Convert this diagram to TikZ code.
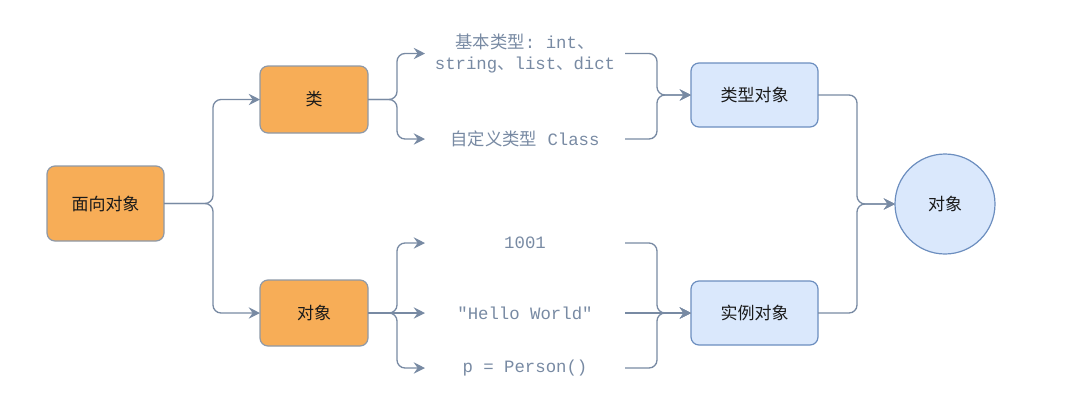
\documentclass[tikz,border=0pt]{standalone}
\usepackage{fontspec}
\setmonofont{Liberation Mono}
\newfontfamily\cjk{Noto Sans CJK SC}
\usetikzlibrary{arrows.meta,calc}
\definecolor{lc}{HTML}{788AA3}
\definecolor{ofill}{HTML}{F7AD57}
\definecolor{obd}{HTML}{8E99A8}
\definecolor{bfill}{HTML}{DAE8FC}
\definecolor{bbd}{HTML}{6C8EBF}
\definecolor{tx}{HTML}{1A1A1A}
\tikzset{
  obox/.style={draw=obd, fill=ofill, rounded corners=6pt, line width=0.9pt, text=tx,
    font=\cjk\fontsize{12.75}{15}\selectfont, inner sep=0pt, outer sep=0pt},
  bbox/.style={draw=bbd, fill=bfill, rounded corners=6pt, line width=0.9pt, text=tx,
    font=\cjk\fontsize{12.75}{15}\selectfont, inner sep=0pt, outer sep=0pt},
  code/.style={text=lc, font=\ttfamily\fontsize{13}{15.75}\selectfont, align=center,
    minimum width=150pt, inner sep=0pt, outer sep=0pt},
  conn/.style={draw=lc, line width=1pt, rounded corners=6pt,
    -{Stealth[length=8.5pt,width=8.5pt,inset=3pt]}}
}
\begin{document}
\begin{tikzpicture}[x=0.75pt,y=-0.75pt]
\useasboundingbox (0,0) rectangle (1065,412);
% boxes
\node[obox, minimum width=87.75pt, minimum height=56.25pt] (oop) at (105.5,203.5) {面向对象};
\node[obox, minimum width=81pt, minimum height=50.25pt] (cls) at (314,99.5) {类};
\node[obox, minimum width=81pt, minimum height=49.5pt] (obj) at (314,313) {对象};
\node[bbox, minimum width=95.25pt, minimum height=48pt] (tto) at (754.5,95) {类型对象};
\node[bbox, minimum width=95.25pt, minimum height=48pt] (ito) at (754.5,313) {实例对象};
\node[bbox, circle, minimum size=75pt] (circ) at (945,204) {对象};
% texts
\node[code] (t1) at (525,53.5) {{\cjk 基本类型}: int{\cjk 、}\\string{\cjk 、}list{\cjk 、}dict};
\node[code] (t2) at (525,139) {{\cjk 自定义类型} Class};
\node[code] (t3) at (525,243) {1001};
\node[code] (t4) at (525,313) {"Hello World"};
\node[code] (t5) at (525,368) {p = Person()};
% junction x positions
\coordinate (j1) at (213,0);
\coordinate (j2) at (397,0);
\coordinate (j3) at (657,0);
\coordinate (j4) at (857,0);
% connectors
\draw[conn] (oop.east) -| (j1 |- cls.west) -- (cls.west);
\draw[conn] (oop.east) -| (j1 |- obj.west) -- (obj.west);
\draw[conn] (cls.east) -| (j2 |- t1.west) -- (t1.west);
\draw[conn] (cls.east) -| (j2 |- t2.west) -- (t2.west);
\draw[conn] (obj.east) -| (j2 |- t3.west) -- (t3.west);
\draw[conn] (obj.east) -- (t4.west);
\draw[conn] (obj.east) -| (j2 |- t5.west) -- (t5.west);
\draw[conn] (t1.east) -| (j3 |- tto.west) -- (tto.west);
\draw[conn] (t2.east) -| (j3 |- tto.west) -- (tto.west);
\draw[conn] (t3.east) -| (j3 |- ito.west) -- (ito.west);
\draw[conn] (t4.east) -- (ito.west);
\draw[conn] (t5.east) -| (j3 |- ito.west) -- (ito.west);
\draw[conn] (tto.east) -| (j4 |- circ.west) -- (circ.west);
\draw[conn] (ito.east) -| (j4 |- circ.west) -- (circ.west);
\end{tikzpicture}
\end{document}
